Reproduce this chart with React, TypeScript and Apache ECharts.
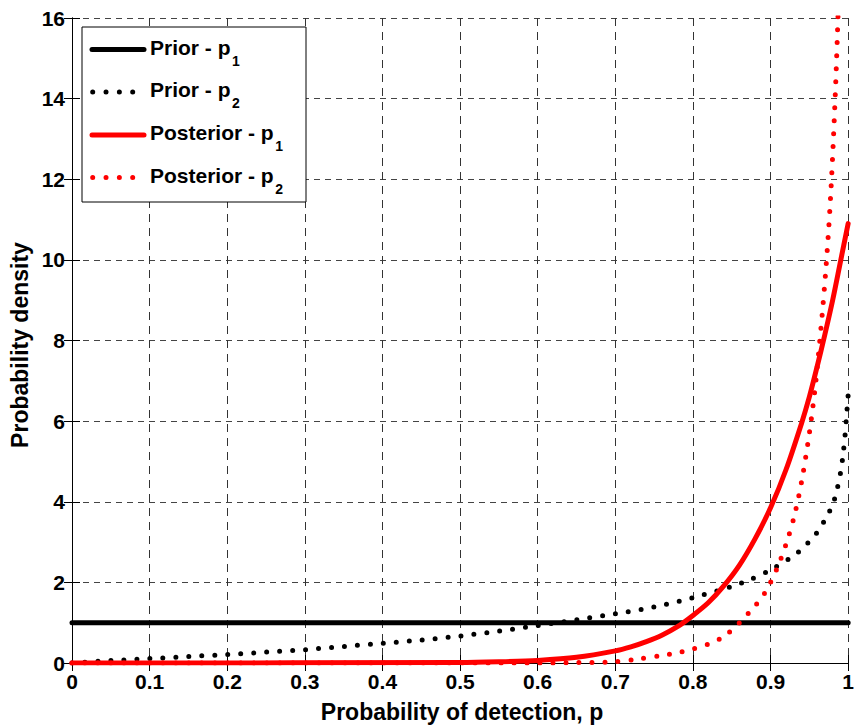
import React, { useEffect, useRef } from 'react';
import * as echarts from 'echarts';

// ---- data ----
const priorP1X = [0, 1];
const priorP1Y = [1, 1];

const priorP2X = [0, 0.05, 0.1, 0.15, 0.2, 0.25, 0.3, 0.35, 0.4, 0.45, 0.5, 0.55, 0.6, 0.65, 0.7, 0.75, 0.8, 0.85, 0.875, 0.9, 0.925, 0.94, 0.95, 0.96, 0.97, 0.98, 0.985, 0.99, 0.993, 0.996, 0.998, 1];
const priorP2Y = [0, 0.06, 0.11, 0.16, 0.21, 0.27, 0.33, 0.41, 0.49, 0.57, 0.67, 0.79, 0.93, 1.07, 1.22, 1.39, 1.62, 1.9, 2.08, 2.31, 2.6, 2.82, 3.02, 3.24, 3.55, 3.93, 4.25, 4.7, 5.1, 5.65, 6.15, 6.65];

const postP1X = [0, 0.5, 0.55, 0.6, 0.65, 0.7, 0.72, 0.74, 0.76, 0.78, 0.8, 0.82, 0.84, 0.86, 0.88, 0.9, 0.92, 0.94, 0.95, 0.96, 0.97, 0.98, 0.99, 1];
const postP1Y = [0, 0.01, 0.03, 0.065, 0.14, 0.3, 0.4, 0.53, 0.69, 0.9, 1.18, 1.5, 1.92, 2.43, 3.08, 3.85, 4.8, 5.95, 6.6, 7.35, 8.15, 9.0, 9.95, 10.9];

const postP2X = [0, 0.6, 0.65, 0.7, 0.73, 0.76, 0.78, 0.8, 0.82, 0.84, 0.86, 0.88, 0.89, 0.9, 0.91, 0.92, 0.93, 0.94, 0.95, 0.957, 0.962, 0.967, 0.971, 0.975, 0.978, 0.981, 0.984, 0.986, 0.988, 0.99];
const postP2Y = [0, 0.0, 0.01, 0.03, 0.1, 0.19, 0.25, 0.35, 0.47, 0.66, 1.0, 1.42, 1.66, 2.0, 2.42, 2.95, 3.6, 4.5, 5.7, 6.75, 7.7, 8.75, 9.7, 10.8, 11.8, 13.0, 14.4, 15.5, 16.7, 18.0];

const seriesNames = ['Prior - p1', 'Prior - p2', 'Posterior - p1', 'Posterior - p2'];
const legendMain = ['Prior - p', 'Prior - p', 'Posterior - p', 'Posterior - p'];
const legendSub = ['1', '2', '1', '2'];

const FONT = "'Liberation Sans', Arial, Helvetica, sans-serif";

function pairs(xs: number[], ys: number[]) {
  return xs.map((x, i) => [x, ys[i]]);
}

function measure(text: string, font: string): number {
  const c = document.createElement('canvas');
  const ctx = c.getContext('2d');
  if (!ctx) return text.length * 11;
  ctx.font = font;
  return ctx.measureText(text).width;
}

export default function App() {
  const ref = useRef<HTMLDivElement>(null);

  useEffect(() => {
    if (!ref.current) return;
    const chart = echarts.init(ref.current, null, { renderer: 'svg' });

    const solid = (color: string) => ({ color, width: 5, type: 'solid', cap: 'round', join: 'round' });
    const dotted = (color: string) => ({ color, width: 5, type: [0, 13], cap: 'round' });

    const legendRows = [49.5, 92, 135, 177.5];
    const legendStyles = [
      { stroke: '#000', dash: null },
      { stroke: '#000', dash: [0, 13.33] },
      { stroke: '#ff0000', dash: null },
      { stroke: '#ff0000', dash: [0, 13.33] },
    ];

    const legendGraphics: any[] = [
      {
        type: 'rect',
        shape: { x: 82, y: 27, width: 224, height: 175 },
        style: { fill: '#fff', stroke: '#000', lineWidth: 1 },
        z: 100,
      },
    ];
    legendRows.forEach((ry, i) => {
      const st = legendStyles[i];
      legendGraphics.push({
        type: 'line',
        shape: st.dash ? { x1: 92.7, y1: ry, x2: 133, y2: ry } : { x1: 92, y1: ry, x2: 144, y2: ry },
        style: {
          stroke: st.stroke,
          lineWidth: 5,
          lineCap: 'round',
          lineDash: st.dash || undefined,
        },
        z: 101,
      });
      const mainW = measure(legendMain[i], `bold 21px ${FONT}`);
      legendGraphics.push({
        type: 'text',
        x: 150,
        y: ry - 2.5,
        z: 101,
        style: {
          text: legendMain[i], fill: '#000',
          fontSize: 21, fontWeight: 'bold', fontFamily: FONT,
          align: 'left', verticalAlign: 'middle',
        },
      });
      legendGraphics.push({
        type: 'text',
        x: 150 + mainW + 1.5,
        y: ry + 11,
        z: 101,
        style: {
          text: legendSub[i], fill: '#000',
          fontSize: 14, fontWeight: 'bold', fontFamily: FONT,
          align: 'left', verticalAlign: 'middle',
        },
      });
    });

    const axisLabel = { color: '#000', fontSize: 21, fontWeight: 'bold', fontFamily: FONT };

    chart.setOption({
      animation: false,
      backgroundColor: '#fff',
      grid: { left: 72, right: 5, top: 18, bottom: 64, show: false },
      xAxis: [
        {
          type: 'value', min: 0, max: 1, interval: 0.1, position: 'bottom',
          axisLine: { show: true, lineStyle: { color: '#000', width: 1 } },
          axisTick: { show: true, inside: true, length: 8, lineStyle: { color: '#000' } },
          axisLabel: { ...axisLabel, margin: 8 },
          splitLine: { show: true, lineStyle: { color: '#333', width: 1, type: [8, 6] } },
        },
        {
          type: 'value', min: 0, max: 1, interval: 0.1, position: 'top',
          axisLine: { show: true, lineStyle: { color: '#000', width: 1 } },
          axisTick: { show: true, inside: true, length: 8, lineStyle: { color: '#000' } },
          axisLabel: { show: false },
          splitLine: { show: false },
        },
      ],
      yAxis: [
        {
          type: 'value', min: 0, max: 16, interval: 2, position: 'left',
          axisLine: { show: true, lineStyle: { color: '#000', width: 1 } },
          axisTick: { show: true, inside: true, length: 8, lineStyle: { color: '#000' } },
          axisLabel: { ...axisLabel, margin: 7 },
          splitLine: { show: true, lineStyle: { color: '#444', width: 1, type: [6, 5] } },
        },
        {
          type: 'value', min: 0, max: 16, interval: 2, position: 'right',
          axisLine: { show: true, lineStyle: { color: '#000', width: 1 } },
          axisTick: { show: true, inside: true, length: 8, lineStyle: { color: '#000' } },
          axisLabel: { show: false },
          splitLine: { show: false },
        },
      ],
      series: [
        {
          name: seriesNames[0], type: 'line', data: pairs(priorP1X, priorP1Y),
          showSymbol: false, symbol: 'none', silent: true, lineStyle: solid('#000'),
        },
        {
          name: seriesNames[1], type: 'line', data: pairs(priorP2X, priorP2Y),
          showSymbol: false, symbol: 'none', silent: true, smooth: 0.3,
          lineStyle: dotted('#000'),
        },
        {
          name: seriesNames[2], type: 'line', data: pairs(postP1X, postP1Y),
          showSymbol: false, symbol: 'none', silent: true, smooth: 0.3,
          lineStyle: solid('#ff0000'),
        },
        {
          name: seriesNames[3], type: 'line', data: pairs(postP2X, postP2Y),
          showSymbol: false, symbol: 'none', silent: true, smooth: 0.3,
          lineStyle: dotted('#ff0000'),
        },
      ],
      graphic: [
        ...legendGraphics,
        {
          type: 'text', x: 462, y: 712,
          style: {
            text: 'Probability of detection, p', fill: '#000',
            fontSize: 23, fontWeight: 'bold', fontFamily: FONT,
            align: 'center', verticalAlign: 'middle',
          },
        },
        {
          type: 'text', x: 20, y: 345, rotation: Math.PI / 2,
          style: {
            text: 'Probability density', fill: '#000',
            fontSize: 23, fontWeight: 'bold', fontFamily: FONT,
            align: 'center', verticalAlign: 'middle',
          },
        },
      ],
    });

    return () => chart.dispose();
  }, []);

  return (
    <div
      ref={ref}
      style={{ position: 'fixed', left: 0, top: 0, width: 857, height: 727, background: '#fff' }}
    />
  );
}
